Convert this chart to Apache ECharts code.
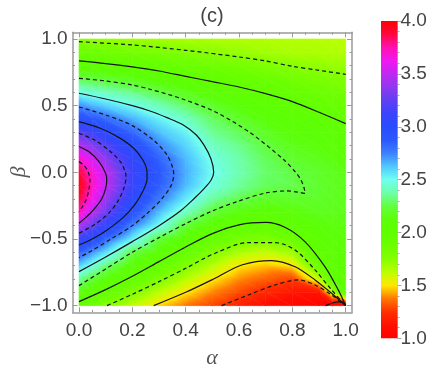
<!DOCTYPE html>
<html>
<head>
<meta charset="utf-8">
<script src="https://cdn.jsdelivr.net/npm/echarts@6/dist/echarts.min.js"></script>
<style>
  html, body { margin: 0; padding: 0; background: #fff; }
  #chart { width: 436px; height: 371px; }
</style>
</head>
<body>
<div id="chart"></div>
<script>
// grid nodes of the density map
const alphaGrid = [0, 0.05, 0.1, 0.2, 0.3, 0.4, 0.5, 0.6, 0.7, 0.8, 0.9, 0.95, 1.0]
const betaGrid = [1.0, 0.9, 0.8, 0.7, 0.6, 0.5, 0.4, 0.3, 0.2, 0.1, 0.0,
  -0.1, -0.2, -0.3, -0.4, -0.5, -0.6, -0.7, -0.8, -0.9, -1.0]

// values, one list per alpha column (beta from 1.0 down to -1.0)
const columnValues = [
  [1.72, 1.888, 2.067, 2.261, 2.484, 2.726, 2.955, 3.23, 3.48, 3.706, 3.9, 3.97, 3.88, 3.736, 3.44, 3.128, 2.855, 2.607, 2.369, 2.146, 1.94],
  [1.71, 1.875, 2.048, 2.24, 2.443, 2.66, 2.885, 3.124, 3.354, 3.56, 3.68, 3.72, 3.64, 3.48, 3.26, 2.995, 2.714, 2.474, 2.226, 2.045, 1.88],
  [1.70, 1.863, 2.029, 2.221, 2.407, 2.604, 2.813, 3.02, 3.215, 3.377, 3.505, 3.51, 3.403, 3.282, 3.088, 2.821, 2.579, 2.319, 2.129, 1.958, 1.75],
  [1.69, 1.833, 1.985, 2.167, 2.339, 2.5, 2.667, 2.827, 2.98, 3.08, 3.125, 3.11, 3.04, 2.93, 2.75, 2.542, 2.25, 2.111, 1.963, 1.778, 1.62],
  [1.68, 1.80, 1.943, 2.096, 2.255, 2.401, 2.535, 2.64, 2.745, 2.84, 2.886, 2.86, 2.77, 2.639, 2.5, 2.236, 2.097, 1.95, 1.783, 1.629, 1.48],
  [1.67, 1.77, 1.897, 2.028, 2.168, 2.301, 2.425, 2.53, 2.6, 2.65, 2.674, 2.65, 2.55, 2.412, 2.229, 2.086, 1.938, 1.78, 1.639, 1.5, 1.37],
  [1.66, 1.738, 1.857, 1.976, 2.091, 2.205, 2.29, 2.35, 2.42, 2.48, 2.505, 2.47, 2.36, 2.235, 2.088, 1.935, 1.774, 1.638, 1.507, 1.39, 1.28],
  [1.655, 1.711, 1.822, 1.933, 2.034, 2.119, 2.205, 2.28, 2.34, 2.38, 2.39, 2.36, 2.27, 2.131, 1.99, 1.825, 1.664, 1.508, 1.401, 1.297, 1.20],
  [1.65, 1.684, 1.786, 1.888, 1.99, 2.058, 2.123, 2.188, 2.25, 2.28, 2.30, 2.28, 2.199, 2.086, 1.959, 1.788, 1.614, 1.457, 1.335, 1.214, 1.09],
  [1.645, 1.665, 1.745, 1.84, 1.934, 2.015, 2.064, 2.114, 2.164, 2.213, 2.255, 2.265, 2.2, 2.117, 2.033, 1.885, 1.692, 1.5, 1.283, 1.15, 1.05],
  [1.64, 1.66, 1.722, 1.802, 1.881, 1.96, 2.04, 2.09, 2.13, 2.17, 2.2, 2.21, 2.2, 2.17, 2.12, 2.07, 2.02, 1.885, 1.625, 1.15, 1.02],
  [1.635, 1.655, 1.713, 1.787, 1.86, 1.934, 2.008, 2.06, 2.1, 2.14, 2.17, 2.18, 2.18, 2.16, 2.13, 2.1, 2.07, 2.04, 2.0, 1.65, 0.98],
  [1.63, 1.65, 1.706, 1.774, 1.841, 1.909, 1.976, 2.04, 2.08, 2.12, 2.15, 2.17, 2.17, 2.16, 2.15, 2.13, 2.11, 2.09, 2.07, 2.04, 1.0]
]

// contour lines [alpha, beta]; solid at multiples of 0.5, dashed between
const contour375 = [[0, 0.08], [0.02, 0.05], [0.035, 0.0], [0.041, -0.06], [0.038, -0.12], [0.028, -0.2], [0.012, -0.26], [0, -0.295]]
const contour350 = [[0, 0.193], [0.04, 0.15], [0.075, 0.08], [0.098, 0.0], [0.104, -0.05], [0.1, -0.12], [0.085, -0.2], [0.055, -0.28], [0.025, -0.34], [0, -0.382]]
const contour325 = [[0, 0.293], [0.06, 0.24], [0.115, 0.16], [0.155, 0.08], [0.174, 0.0], [0.176, -0.04], [0.168, -0.12], [0.145, -0.22], [0.11, -0.31], [0.06, -0.39], [0, -0.457]]
const contour300 = [[0, 0.38], [0.08, 0.33], [0.15, 0.26], [0.205, 0.18], [0.24, 0.09], [0.255, 0.0], [0.255, -0.05], [0.24, -0.14], [0.21, -0.24], [0.165, -0.34], [0.1, -0.44], [0.04, -0.51], [0, -0.545]]
const contour275 = [[0, 0.49], [0.1, 0.43], [0.2, 0.35], [0.28, 0.24], [0.33, 0.13], [0.352, 0.03], [0.355, -0.02], [0.345, -0.1], [0.31, -0.2], [0.26, -0.3], [0.2, -0.4], [0.12, -0.5], [0.05, -0.585], [0, -0.64]]
const contour250 = [[0, 0.593], [0.1, 0.55], [0.2, 0.5], [0.266, 0.46], [0.33, 0.41], [0.391, 0.355], [0.44, 0.28], [0.47, 0.2], [0.495, 0.1], [0.505, 0.0], [0.495, -0.06], [0.47, -0.12], [0.43, -0.2], [0.38, -0.29], [0.3, -0.4], [0.2, -0.52], [0.1, -0.635], [0, -0.745]]
const contour225 = [[0, 0.705], [0.1, 0.685], [0.2, 0.655], [0.266, 0.623], [0.391, 0.548], [0.516, 0.448], [0.641, 0.298], [0.766, 0.098], [0.81, 0.005], [0.83, -0.05], [0.843, -0.11], [0.848, -0.158], [0.82, -0.148], [0.78, -0.14], [0.7, -0.155], [0.6, -0.215], [0.5, -0.29], [0.4, -0.385], [0.3, -0.49], [0.2, -0.6], [0.1, -0.725], [0, -0.85]]
const contour200Top = [[0, 0.835], [0.1, 0.815], [0.2, 0.79], [0.3, 0.76], [0.4, 0.72], [0.5, 0.68], [0.6, 0.64], [0.7, 0.59], [0.8, 0.53], [0.9, 0.45], [1, 0.365]]
const contour175Top = [[0, 0.98], [0.2, 0.955], [0.4, 0.915], [0.6, 0.865], [0.7, 0.835], [0.8, 0.795], [0.9, 0.765], [1, 0.735]]
const contour200Bottom = [[0, -0.97], [0.1, -0.88], [0.2, -0.78], [0.3, -0.67], [0.4, -0.56], [0.5, -0.46], [0.6, -0.394], [0.7, -0.376], [0.772, -0.412], [0.847, -0.52], [0.922, -0.708], [0.972, -0.882], [1, -1]]
const contour175Bottom = [[0.105, -1], [0.2, -0.915], [0.3, -0.82], [0.4, -0.72], [0.51, -0.607], [0.635, -0.527], [0.735, -0.527], [0.81, -0.582], [0.885, -0.732], [0.947, -0.882], [1, -1]]
const contour150 = [[0.28, -1], [0.4, -0.9], [0.51, -0.795], [0.61, -0.695], [0.722, -0.662], [0.81, -0.708], [0.885, -0.807], [0.947, -0.907], [1, -1]]
const contour125 = [[0.535, -1], [0.635, -0.92], [0.735, -0.845], [0.822, -0.807], [0.885, -0.845], [0.947, -0.92], [1, -1]]
const contour100 = [[0.925, -1], [0.95, -0.98], [0.975, -0.972], [1, -0.99]]

const solidContours = [contour350, contour300, contour250, contour200Top, contour200Bottom, contour150, contour100]
const dashedContours = [contour375, contour325, contour275, contour225, contour175Top, contour175Bottom, contour125]

// colour scale of the legend bar
const colorLevels = [1.0, 1.125, 1.25, 1.375, 1.5, 1.625, 1.75, 1.875, 2.0, 2.125, 2.25, 2.375, 2.5,
  2.625, 2.75, 2.875, 3.0, 3.125, 3.25, 3.375, 3.5, 3.625, 3.75, 3.875, 4.0]
const colorSteps = ['#ff0000', '#ff1000', '#ff3000', '#ff7800', '#ffe800', '#bcff00', '#84ff00', '#6cff00',
  '#60ff00', '#5cff08', '#62ff40', '#6effa8', '#70fff0', '#50c8ff', '#3c80ff', '#2c58ff', '#2a4cff',
  '#3a44fc', '#6040f4', '#9038f0', '#c028f0', '#f018f0', '#ff10b0', '#ff0840', '#ff0000']

// ticks
const xMajorTicks = [0, 0.2, 0.4, 0.6, 0.8, 1.0]
const xMinorTicks = [0.05, 0.1, 0.15, 0.25, 0.3, 0.35, 0.45, 0.5, 0.55, 0.65, 0.7, 0.75, 0.85, 0.9, 0.95]
const yMajorTicks = [-1, -0.5, 0, 0.5, 1]
const yMinorTicks = [-0.9, -0.8, -0.7, -0.6, -0.4, -0.3, -0.2, -0.1, 0.1, 0.2, 0.3, 0.4, 0.6, 0.7, 0.8, 0.9]

const FRAME = '#9a9a9a'
const TEXT = '#444'
const FONT = '"Liberation Sans", Arial, sans-serif'

const stepRgb = colorSteps.map(h => [parseInt(h.slice(1, 3), 16), parseInt(h.slice(3, 5), 16), parseInt(h.slice(5, 7), 16)])

function colorAt(v) {
  v = Math.max(colorLevels[0], Math.min(colorLevels[colorLevels.length - 1], v))
  let k = 0
  while (k < colorLevels.length - 2 && v > colorLevels[k + 1]) k++
  const t = (v - colorLevels[k]) / (colorLevels[k + 1] - colorLevels[k])
  const a = stepRgb[k]
  const b = stepRgb[k + 1]
  const c = a.map((x, n) => Math.round(x + (b[n] - x) * t))
  return 'rgb(' + c.join(',') + ')'
}

function formatTick(v) {
  return (v < 0 ? '\u2212' : '') + Math.abs(v).toFixed(1)
}

// one shaded triangle, value varying linearly between its corners
function shadedTriangle(p, v) {
  const vmin = Math.min(v[0], v[1], v[2])
  const vmax = Math.max(v[0], v[1], v[2])
  let fill
  if (vmax - vmin < 1e-6) {
    fill = colorAt(vmin)
  } else {
    const e1x = p[1][0] - p[0][0], e1y = p[1][1] - p[0][1]
    const e2x = p[2][0] - p[0][0], e2y = p[2][1] - p[0][1]
    const d1 = v[1] - v[0], d2 = v[2] - v[0]
    const det = e1x * e2y - e1y * e2x
    const gx = (d1 * e2y - d2 * e1y) / det
    const gy = (e1x * d2 - e2x * d1) / det
    const g2 = gx * gx + gy * gy
    const s = (vmin - v[0]) / g2
    const e = (vmax - v[0]) / g2
    const stops = [{ offset: 0, color: colorAt(vmin) }]
    colorLevels.forEach(lv => {
      if (lv > vmin && lv < vmax) stops.push({ offset: (lv - vmin) / (vmax - vmin), color: colorAt(lv) })
    })
    stops.push({ offset: 1, color: colorAt(vmax) })
    fill = new echarts.graphic.LinearGradient(
      p[0][0] + gx * s, p[0][1] + gy * s, p[0][0] + gx * e, p[0][1] + gy * e, stops, true)
  }
  return {
    type: 'polygon',
    shape: { points: p },
    style: { fill: fill, stroke: fill, lineWidth: 0.6 }
  }
}

const cells = []
for (let i = 0; i < alphaGrid.length - 1; i++) {
  for (let j = 0; j < betaGrid.length - 1; j++) {
    cells.push([alphaGrid[i], betaGrid[j], i, j])
  }
}

function renderCell(params, api) {
  const i = api.value(2)
  const j = api.value(3)
  const p00 = api.coord([alphaGrid[i], betaGrid[j]])
  const p10 = api.coord([alphaGrid[i + 1], betaGrid[j]])
  const p01 = api.coord([alphaGrid[i], betaGrid[j + 1]])
  const p11 = api.coord([alphaGrid[i + 1], betaGrid[j + 1]])
  const v00 = columnValues[i][j]
  const v10 = columnValues[i + 1][j]
  const v01 = columnValues[i][j + 1]
  const v11 = columnValues[i + 1][j + 1]
  return {
    type: 'group',
    children: [
      shadedTriangle([p00, p10, p11], [v00, v10, v11]),
      shadedTriangle([p00, p11, p01], [v00, v11, v01])
    ]
  }
}

function renderBar(params, api) {
  const top = api.coord([0, 4])
  const bottom = api.coord([1, 1])
  const stops = colorLevels.map((lv, n) => ({ offset: (lv - 1) / 3, color: colorSteps[n] }))
  return {
    type: 'rect',
    shape: { x: top[0], y: top[1], width: bottom[0] - top[0], height: bottom[1] - top[1] },
    style: { fill: new echarts.graphic.LinearGradient(0, bottom[1], 0, top[1], stops, true) }
  }
}

function frameAxis(position, min, max, ticks, length, withLine, withLabels) {
  return {
    type: 'value',
    gridIndex: 0,
    position: position,
    min: min,
    max: max,
    axisLine: { show: withLine, onZero: false, lineStyle: { color: FRAME, width: 1.5 } },
    axisTick: { show: true, inside: true, length: length, customValues: ticks, lineStyle: { color: FRAME, width: 1 } },
    axisLabel: {
      show: withLabels,
      customValues: ticks,
      formatter: formatTick,
      fontSize: 19,
      fontFamily: FONT,
      color: TEXT,
      margin: position === 'bottom' ? 9 : 5
    },
    splitLine: { show: false }
  }
}

const contourSeries = []
solidContours.forEach(c => contourSeries.push({ data: c, type: 'solid' }))
dashedContours.forEach(c => contourSeries.push({ data: c, type: [4, 3] }))

const chart = echarts.init(document.getElementById('chart'))
chart.setOption({
  animation: false,
  backgroundColor: '#fff',
  grid: [
    { left: 72.6, top: 32.3, width: 279.5, height: 280 },
    { left: 381, top: 21, width: 16.5, height: 317.3 }
  ],
  xAxis: [
    frameAxis('bottom', -0.024, 1.024, xMajorTicks, 5, true, true),
    frameAxis('bottom', -0.024, 1.024, xMinorTicks, 2.5, false, false),
    frameAxis('top', -0.024, 1.024, xMajorTicks, 5, true, false),
    frameAxis('top', -0.024, 1.024, xMinorTicks, 2.5, false, false),
    { type: 'value', gridIndex: 1, min: 0, max: 1, show: false }
  ],
  yAxis: [
    frameAxis('left', -1.05, 1.05, yMajorTicks, 5, true, true),
    frameAxis('left', -1.05, 1.05, yMinorTicks, 2.5, false, false),
    frameAxis('right', -1.05, 1.05, yMajorTicks, 5, true, false),
    frameAxis('right', -1.05, 1.05, yMinorTicks, 2.5, false, false),
    {
      type: 'value',
      gridIndex: 1,
      position: 'right',
      min: 1,
      max: 4,
      interval: 0.5,
      axisLine: { show: true, onZero: false, lineStyle: { color: '#c8c8c8', width: 1 } },
      axisTick: { show: true, length: 4, lineStyle: { color: '#aaa' } },
      minorTick: { show: true, splitNumber: 5, length: 2, lineStyle: { color: '#aaa' } },
      axisLabel: { fontSize: 19, fontFamily: FONT, color: TEXT, margin: 3, formatter: v => v.toFixed(1) },
      splitLine: { show: false }
    }
  ],
  series: [
    {
      type: 'custom',
      xAxisIndex: 0,
      yAxisIndex: 0,
      data: cells,
      renderItem: renderCell,
      silent: true,
      z: 1
    },
    {
      type: 'custom',
      xAxisIndex: 4,
      yAxisIndex: 4,
      data: [[0, 1]],
      renderItem: renderBar,
      silent: true
    }
  ].concat(contourSeries.map(c => ({
    type: 'line',
    xAxisIndex: 0,
    yAxisIndex: 0,
    data: c.data,
    symbol: 'none',
    smooth: 0.3,
    silent: true,
    z: 3,
    lineStyle: { color: '#141414', width: 1.2, type: c.type }
  }))),
  graphic: [
    {
      type: 'text',
      x: 212,
      y: 16,
      style: { text: '(c)', font: '20px ' + FONT, fill: TEXT, align: 'center', verticalAlign: 'middle' }
    },
    {
      type: 'text',
      x: 212,
      y: 358,
      style: { text: '\u03b1', font: 'italic 22px "Liberation Serif", serif', fill: '#555', align: 'center', verticalAlign: 'middle' }
    },
    {
      type: 'text',
      x: 19,
      y: 172,
      rotation: Math.PI / 2,
      style: { text: '\u03b2', font: 'italic 22px "Liberation Serif", serif', fill: '#555', align: 'center', verticalAlign: 'middle' }
    }
  ]
})
</script>
</body>
</html>
